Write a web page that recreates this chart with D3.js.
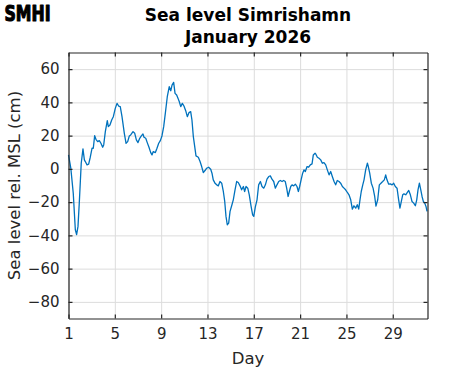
<!DOCTYPE html>
<html><head><meta charset="utf-8">
<script src="https://cdn.jsdelivr.net/npm/d3@7"></script>
<style>
html,body{margin:0;padding:0;background:#fff;}
svg{display:block;font-family:"DejaVu Sans",sans-serif;}
</style></head>
<body>
<svg id="chart" width="471" height="371"></svg>
<script>
const titleLines = ["Sea level Simrishamn", "January 2026"];
const xLabel = "Day";
const yLabel = "Sea level rel. MSL (cm)";
const logoText = "SMHI";
const xTicks = [1, 5, 9, 13, 17, 21, 25, 29];
const yTicks = [-80, -60, -40, -20, 0, 20, 40, 60];
const xDomain = [1, 32];
const yDomain = [-90, 70];

const days = [1.0,1.2,1.41,1.59,1.7,1.82,1.93,2.1,2.25,2.37,2.45,2.6,2.74,2.88,3.03,3.14,3.26,3.37,3.52,3.66,3.8,3.95,4.04,4.18,4.35,4.44,4.58,4.73,4.87,5.04,5.19,5.33,5.47,5.62,5.82,5.97,6.11,6.25,6.37,6.57,6.72,6.86,7.0,7.15,7.29,7.43,7.52,7.67,7.8,7.95,8.1,8.21,8.32,8.5,8.64,8.79,8.93,9.07,9.22,9.36,9.53,9.7,9.83,9.94,10.08,10.2,10.34,10.46,10.57,10.69,10.83,10.97,11.12,11.26,11.4,11.55,11.66,11.78,12.01,12.21,12.36,12.5,12.64,12.79,12.93,13.1,13.28,13.39,13.5,13.65,13.8,13.94,14.08,14.23,14.37,14.49,14.6,14.71,14.83,14.95,15.09,15.23,15.38,15.52,15.66,15.81,15.95,16.1,16.21,16.33,16.48,16.61,16.76,16.9,17.0,17.13,17.28,17.42,17.57,17.71,17.86,18.0,18.14,18.29,18.43,18.57,18.72,18.86,19.0,19.15,19.29,19.44,19.58,19.72,19.84,19.96,20.07,20.19,20.3,20.45,20.59,20.73,20.85,20.96,21.1,21.22,21.34,21.45,21.6,21.74,21.88,22.03,22.14,22.29,22.35,22.49,22.63,22.78,22.92,23.06,23.21,23.35,23.5,23.64,23.78,23.93,24.07,24.21,24.36,24.5,24.65,24.79,24.93,25.08,25.22,25.37,25.51,25.65,25.8,25.94,26.06,26.17,26.28,26.41,26.52,26.66,26.81,26.89,27.01,27.15,27.3,27.44,27.55,27.7,27.84,27.98,28.13,28.27,28.39,28.5,28.65,28.79,28.94,29.08,29.22,29.37,29.51,29.62,29.74,29.86,29.97,30.12,30.26,30.38,30.52,30.66,30.81,30.95,31.07,31.18,31.3,31.42,31.53,31.64,31.76,31.87,31.96];
const level = [8.4,0.4,-14.6,-36.6,-39.6,-34.6,-20.6,3.4,12,5.4,4.4,2.4,2.8,7,12.4,12.4,20,17.8,16.4,17,15.4,13,14.4,22.4,29,25.4,26.4,29.4,31.4,36.4,39.4,37.8,37.4,31.4,21.4,15.4,16.4,19.8,20.4,22.4,21.4,17.4,15.8,18.4,19.8,21,19,18.4,15.8,13,9.8,8.4,10.4,9.8,12.4,15.4,17,19.8,25.4,33.4,43.4,49.4,47,50.4,52,45.4,44.4,42.4,40.4,37.4,39.4,37.8,35,31.4,33.8,34.4,29.4,19.4,7.8,7,4.4,1.4,-2.2,-1,0.4,1,-0.2,-2.6,-6.6,-8.6,-9.6,-10.2,-7.6,-8.6,-13.6,-19.6,-28.6,-33.6,-32.6,-25.6,-22.2,-18.6,-12.6,-7.6,-8.2,-10.2,-12.6,-10.6,-13.6,-10.6,-11.6,-15.6,-22.2,-27.6,-28.6,-23,-18.6,-9.6,-7.6,-10.6,-11.6,-9.6,-6.2,-4.6,-4.2,-6.2,-7.6,-11.6,-9.6,-7.6,-7,-7.6,-7,-7.6,-11.6,-16.6,-13.6,-10.6,-9.6,-10.2,-9.2,-10.6,-13.6,-10.6,-6.2,-2.6,-0.6,-1.6,1.4,1,2.4,3,8.4,9.4,9,7,6.4,5.4,3.4,3.8,2.4,-0.6,-3.6,-1.6,-4.6,-7.6,-9.6,-7,-7.6,-8.6,-10.6,-11.6,-12.6,-14.2,-15.6,-18.6,-24.2,-22.2,-23.6,-21.6,-24.2,-18.6,-13.6,-9.6,-6.6,-0.6,3.4,1.4,-2.6,-8.6,-11.6,-16.6,-22.4,-18.6,-9.6,-8.6,-7.6,-6.6,-3.6,-6.6,-9.2,-9,-9.6,-8.6,-10.6,-11.6,-18.6,-23.6,-19.6,-15.6,-15,-15.6,-14.2,-13,-15.6,-19.6,-20.6,-22.2,-18.6,-12.6,-8.6,-12.6,-16.6,-19.6,-20.6,-22.6,-25.6];

const svg = d3.select("#chart");
const m = {left: 68.5, top: 52.5, right: 427.5, bottom: 318.5};
const W = m.right - m.left, H = m.bottom - m.top;
const x = d3.scaleLinear().domain(xDomain).range([m.left, m.right]);
const y = d3.scaleLinear().domain(yDomain).range([m.bottom, m.top]);
const ink = "#262626";

// grid
const gx = svg.append("g").attr("transform", `translate(0,${m.bottom})`)
  .call(d3.axisBottom(x).tickValues(xTicks).tickSize(-H).tickFormat(""));
const gy = svg.append("g").attr("transform", `translate(${m.left},0)`)
  .call(d3.axisLeft(y).tickValues(yTicks).tickSize(-W).tickFormat(""));
[gx, gy].forEach(g => {
  g.select(".domain").remove();
  g.selectAll("line").attr("stroke", "#dcdcdc").attr("stroke-width", 1);
});

// data line
const pts = days.map((d, i) => [d, level[i]]);
svg.append("path").datum(pts)
  .attr("fill", "none").attr("stroke", "#0072BD").attr("stroke-width", 1.3)
  .attr("stroke-linejoin", "round")
  .attr("d", d3.line().x(d => x(d[0])).y(d => y(d[1])));

// axes
function styleAxis(g) {
  g.select(".domain").attr("stroke", ink).attr("stroke-width", 1.2);
  g.selectAll(".tick line").attr("stroke", ink).attr("stroke-width", 1.2);
  g.selectAll("text").attr("fill", ink).attr("font-size", 15)
   .attr("font-family", "DejaVu Sans, sans-serif");
}
const fmt = d => (d < 0 ? "\u2212" + Math.abs(d) : String(d));
svg.append("g").attr("transform", `translate(0,${m.bottom})`)
  .call(d3.axisBottom(x).tickValues(xTicks).tickSize(-4).tickSizeOuter(0).tickPadding(10).tickFormat(fmt))
  .call(styleAxis);
svg.append("g").attr("transform", `translate(${m.left},0)`)
  .call(d3.axisLeft(y).tickValues(yTicks).tickSize(-4).tickSizeOuter(0).tickPadding(9).tickFormat(fmt))
  .call(styleAxis);
svg.append("g").attr("transform", `translate(0,${m.top})`)
  .call(d3.axisTop(x).tickValues(xTicks).tickSize(-4).tickSizeOuter(0).tickFormat(""))
  .call(styleAxis);
svg.append("g").attr("transform", `translate(${m.right},0)`)
  .call(d3.axisRight(y).tickValues(yTicks).tickSize(-4).tickSizeOuter(0).tickFormat(""))
  .call(styleAxis);

// labels
svg.append("text").attr("x", (m.left + m.right) / 2).attr("y", 364)
  .attr("text-anchor", "middle").attr("font-size", 16.5).attr("fill", ink).text(xLabel);
svg.append("text").attr("transform", `translate(20,${(m.top + m.bottom) / 2}) rotate(-90)`)
  .attr("text-anchor", "middle").attr("font-size", 16.5).attr("fill", ink).text(yLabel);

// title
titleLines.forEach((t, i) => {
  svg.append("text").attr("x", (m.left + m.right) / 2).attr("y", 20.5 + i * 22)
    .attr("text-anchor", "middle").attr("font-size", 17).attr("font-weight", "bold")
    .attr("fill", "#000").text(t);
});

// logo
svg.append("text").attr("x", 4.5).attr("y", 20.5).attr("font-size", 22)
  .attr("font-family", "DejaVu Sans Condensed, DejaVu Sans, sans-serif")
  .attr("font-weight", "bold").attr("fill", "#000")
  .attr("stroke", "#000").attr("stroke-width", 1.1).attr("stroke-linejoin", "round")
  .attr("textLength", 46).attr("lengthAdjust", "spacingAndGlyphs").text(logoText);
</script>
</body></html>
